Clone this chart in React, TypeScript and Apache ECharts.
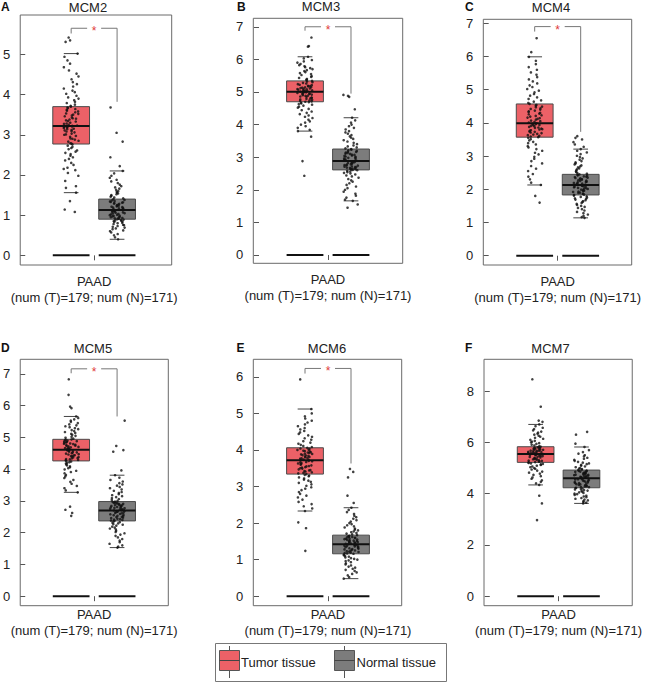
import React, { useEffect, useRef } from "react";
import * as echarts from "echarts";

const genes = ["MCM2", "MCM3", "MCM4", "MCM5", "MCM6", "MCM7"];
const letters = ["A", "B", "C", "D", "E", "F"];
const xTickLabel = "PAAD\n(num (T)=179; num (N)=171)";
const legendLabels = ["Tumor tissue", "Normal tissue"];

const yTicks = [
  [0, 1, 2, 3, 4, 5],
  [0, 1, 2, 3, 4, 5, 6, 7],
  [0, 1, 2, 3, 4, 5, 6, 7],
  [0, 1, 2, 3, 4, 5, 6, 7],
  [0, 1, 2, 3, 4, 5, 6],
  [0, 2, 4, 6, 8],
];
const yRanges = [
  [-0.24, 5.98],
  [-0.255, 7.26],
  [-0.28, 7.12],
  [-0.3, 7.46],
  [-0.26, 6.48],
  [-0.37, 9.24],
];

// [lower whisker, Q1, median, Q3, upper whisker]
const tumorStats = [
  [1.56, 2.77, 3.22, 3.7, 5.02],
  [3.8, 4.7, 5.01, 5.34, 6.08],
  [2.13, 3.57, 3.99, 4.57, 5.99],
  [3.27, 4.26, 4.61, 4.94, 5.66],
  [2.33, 3.34, 3.72, 4.06, 5.12],
  [4.34, 5.22, 5.55, 5.83, 6.7],
];
const normalStats = [
  [0.4, 0.9, 1.13, 1.4, 2.1],
  [1.66, 2.61, 2.88, 3.25, 4.21],
  [1.14, 1.83, 2.13, 2.45, 3.21],
  [1.53, 2.37, 2.7, 2.98, 3.81],
  [0.48, 1.16, 1.42, 1.67, 2.42],
  [3.62, 4.23, 4.6, 4.92, 5.82],
];
// significance bracket: [top, left leg end, right leg end]
const brackets: (number[] | null)[] = [
  [5.65, 5.52, 3.82],
  [7.0, 6.88, 4.95],
  [6.9, 6.75, 3.73],
  [7.16, 7.02, 5.66],
  [6.23, 6.09, 3.63],
  null,
];

const tumorMCM2 = [1.08, 1.14, 1.35,
  1.56, 1.68, 1.72, 1.85, 1.98, 2.05, 2.12, 2.15, 2.18, 2.25, 2.3, 2.36, 2.4, 2.44, 2.48, 2.52, 2.55, 2.58, 2.61, 2.64, 2.67, 2.7, 2.73, 2.76,
  2.78, 2.79, 2.83, 2.85, 2.88, 2.9, 2.91, 2.95, 2.97, 3.0, 3.01, 3.03, 3.06, 3.08, 3.09, 3.11, 3.12, 3.14, 3.15, 3.17, 3.18, 3.19, 3.2, 3.21, 3.22,
  3.23, 3.25, 3.27, 3.28, 3.3, 3.33, 3.34, 3.36, 3.38, 3.4, 3.41, 3.43, 3.46, 3.48, 3.5, 3.52, 3.53, 3.56, 3.58, 3.6, 3.62, 3.64, 3.66, 3.68, 3.7,
  3.72, 3.75, 3.79, 3.82, 3.86, 3.9, 3.93, 3.97, 4.02, 4.06, 4.1, 4.15, 4.2, 4.26, 4.31, 4.38, 4.45, 4.52, 4.6, 4.68, 4.77, 4.85, 4.94, 5.02,
  5.31, 5.35, 5.42];
const normalMCM2 = [0.4, 0.45, 0.5, 0.53, 0.57, 0.6, 0.62, 0.65, 0.67, 0.69, 0.71, 0.73, 0.75, 0.76, 0.78, 0.8, 0.81, 0.83, 0.84, 0.85, 0.86, 0.87, 0.88, 0.89,
  0.9, 0.91, 0.92, 0.93, 0.94, 0.95, 0.96, 0.97, 0.98, 0.99, 1.0, 1.01, 1.02, 1.03, 1.04, 1.05, 1.06, 1.07, 1.08, 1.09, 1.1, 1.11, 1.12, 1.13,
  1.14, 1.15, 1.16, 1.17, 1.18, 1.19, 1.2, 1.21, 1.22, 1.23, 1.24, 1.25, 1.26, 1.28, 1.29, 1.3, 1.31, 1.32, 1.33, 1.34, 1.35, 1.37, 1.38, 1.4,
  1.42, 1.44, 1.46, 1.48, 1.5, 1.52, 1.54, 1.56, 1.58, 1.6, 1.63, 1.66, 1.69, 1.72, 1.76, 1.8, 1.84, 1.88, 1.93, 1.98, 2.04, 2.1,
  2.22, 2.44, 2.83, 3.05, 3.68];

const tumorMCM3 = [2.43, 2.88, 3.63,
  3.8, 3.84, 3.9, 3.95, 4.0, 4.06, 4.1, 4.15, 4.2, 4.24, 4.28, 4.32, 4.36, 4.4, 4.44, 4.48, 4.52, 4.55, 4.58, 4.61, 4.63, 4.65, 4.67, 4.69,
  4.7, 4.71, 4.73, 4.74, 4.76, 4.77, 4.79, 4.8, 4.82, 4.83, 4.85, 4.86, 4.88, 4.89, 4.9, 4.92, 4.93, 4.94, 4.95, 4.96, 4.97, 4.98, 4.99, 5.0, 5.01,
  5.02, 5.03, 5.04, 5.05, 5.06, 5.07, 5.08, 5.09, 5.1, 5.11, 5.12, 5.13, 5.14, 5.15, 5.17, 5.18, 5.19, 5.21, 5.22, 5.24, 5.26, 5.28, 5.3, 5.32, 5.34,
  5.36, 5.38, 5.4, 5.43, 5.46, 5.49, 5.52, 5.55, 5.58, 5.61, 5.64, 5.67, 5.7, 5.73, 5.76, 5.79, 5.82, 5.86, 5.9, 5.94, 5.98, 6.03, 6.08,
  6.39, 6.41, 6.67];
const normalMCM3 = [1.45, 1.55,
  1.66, 1.7, 1.76, 1.82, 1.88, 1.94, 2.0, 2.05, 2.1, 2.15, 2.2, 2.25, 2.29, 2.33, 2.37, 2.41, 2.44, 2.47, 2.5, 2.52, 2.54, 2.56, 2.58, 2.6,
  2.61, 2.62, 2.63, 2.64, 2.65, 2.66, 2.67, 2.68, 2.69, 2.7, 2.71, 2.72, 2.74, 2.75, 2.76, 2.77, 2.78, 2.8, 2.81, 2.82, 2.84, 2.85, 2.86, 2.88,
  2.89, 2.9, 2.92, 2.93, 2.95, 2.96, 2.98, 2.99, 3.01, 3.02, 3.04, 3.05, 3.07, 3.08, 3.1, 3.11, 3.13, 3.14, 3.16, 3.17, 3.19, 3.21, 3.23, 3.25,
  3.27, 3.3, 3.33, 3.36, 3.4, 3.44, 3.48, 3.52, 3.56, 3.6, 3.64, 3.68, 3.72, 3.76, 3.8, 3.85, 3.9, 3.95, 4.0, 4.06, 4.13, 4.21,
  4.47, 4.85, 4.88, 4.91];

const tumorMCM4 = [1.6, 1.8,
  2.13, 2.2, 2.3, 2.38, 2.46, 2.55, 2.62, 2.7, 2.78, 2.85, 2.92, 2.98, 3.05, 3.1, 3.16, 3.21, 3.26, 3.3, 3.35, 3.39, 3.43, 3.47, 3.51, 3.55,
  3.57, 3.59, 3.61, 3.63, 3.65, 3.67, 3.69, 3.71, 3.73, 3.74, 3.76, 3.78, 3.8, 3.81, 3.83, 3.85, 3.86, 3.88, 3.9, 3.91, 3.93, 3.94, 3.96, 3.97, 3.99,
  4.01, 4.03, 4.05, 4.07, 4.1, 4.12, 4.14, 4.16, 4.19, 4.21, 4.23, 4.26, 4.28, 4.3, 4.33, 4.35, 4.37, 4.4, 4.42, 4.44, 4.47, 4.49, 4.52, 4.54, 4.57,
  4.6, 4.64, 4.68, 4.72, 4.77, 4.82, 4.87, 4.92, 4.97, 5.02, 5.08, 5.13, 5.19, 5.25, 5.31, 5.38, 5.45, 5.52, 5.6, 5.68, 5.77, 5.87, 5.99,
  6.13, 6.55];
const normalMCM4 = [1.14, 1.16, 1.2, 1.24, 1.28, 1.32, 1.36, 1.4, 1.44, 1.47, 1.5, 1.53, 1.56, 1.59, 1.62, 1.64, 1.67, 1.69, 1.71, 1.73, 1.75, 1.77, 1.79, 1.81,
  1.83, 1.84, 1.86, 1.87, 1.89, 1.9, 1.92, 1.93, 1.95, 1.96, 1.97, 1.99, 2.0, 2.01, 2.03, 2.04, 2.05, 2.06, 2.08, 2.09, 2.1, 2.11, 2.12, 2.13,
  2.14, 2.15, 2.17, 2.18, 2.19, 2.21, 2.22, 2.23, 2.25, 2.26, 2.27, 2.29, 2.3, 2.31, 2.33, 2.34, 2.35, 2.37, 2.38, 2.39, 2.41, 2.42, 2.44, 2.45,
  2.47, 2.49, 2.52, 2.54, 2.57, 2.6, 2.63, 2.66, 2.69, 2.72, 2.75, 2.78, 2.81, 2.85, 2.89, 2.93, 2.97, 3.01, 3.06, 3.11, 3.16, 3.21,
  3.28, 3.35, 3.42, 3.5, 3.55, 3.6];

const tumorMCM5 = [2.53, 2.62, 2.72, 2.82,
  3.27, 3.33, 3.4, 3.47, 3.54, 3.6, 3.66, 3.72, 3.77, 3.82, 3.87, 3.91, 3.95, 3.99, 4.03, 4.06, 4.09, 4.12, 4.15, 4.18, 4.2, 4.22, 4.24,
  4.26, 4.28, 4.29, 4.31, 4.32, 4.34, 4.35, 4.37, 4.38, 4.4, 4.41, 4.43, 4.44, 4.46, 4.47, 4.49, 4.5, 4.52, 4.53, 4.55, 4.56, 4.58, 4.59, 4.61,
  4.62, 4.63, 4.65, 4.66, 4.68, 4.69, 4.7, 4.72, 4.73, 4.74, 4.76, 4.77, 4.79, 4.8, 4.81, 4.83, 4.84, 4.86, 4.87, 4.88, 4.9, 4.91, 4.93, 4.94,
  4.96, 4.99, 5.02, 5.05, 5.08, 5.11, 5.14, 5.17, 5.2, 5.23, 5.26, 5.29, 5.32, 5.35, 5.38, 5.41, 5.45, 5.49, 5.53, 5.57, 5.61, 5.66,
  5.92, 5.97, 6.34, 6.83];
const normalMCM5 = [1.53, 1.56, 1.6, 1.65, 1.7, 1.75, 1.8, 1.85, 1.9, 1.94, 1.98, 2.02, 2.06, 2.1, 2.13, 2.16, 2.19, 2.22, 2.25, 2.27, 2.29, 2.31, 2.33, 2.35,
  2.37, 2.38, 2.4, 2.41, 2.43, 2.44, 2.46, 2.47, 2.49, 2.5, 2.52, 2.53, 2.55, 2.56, 2.58, 2.59, 2.61, 2.62, 2.63, 2.65, 2.66, 2.67, 2.68, 2.7,
  2.71, 2.72, 2.73, 2.74, 2.75, 2.77, 2.78, 2.79, 2.8, 2.81, 2.82, 2.84, 2.85, 2.86, 2.87, 2.88, 2.9, 2.91, 2.92, 2.93, 2.94, 2.95, 2.97, 2.98,
  3.0, 3.03, 3.06, 3.09, 3.12, 3.15, 3.18, 3.21, 3.25, 3.28, 3.32, 3.36, 3.4, 3.44, 3.48, 3.52, 3.56, 3.61, 3.66, 3.73, 3.81,
  3.96, 4.55, 4.6, 4.73, 5.53];

const tumorMCM6 = [1.24, 1.86, 2.02,
  2.33, 2.4, 2.46, 2.52, 2.58, 2.64, 2.7, 2.75, 2.8, 2.85, 2.9, 2.94, 2.98, 3.02, 3.06, 3.1, 3.13, 3.16, 3.19, 3.22, 3.25, 3.28, 3.3, 3.32,
  3.34, 3.36, 3.37, 3.39, 3.41, 3.42, 3.44, 3.45, 3.47, 3.49, 3.5, 3.52, 3.53, 3.55, 3.56, 3.58, 3.6, 3.61, 3.63, 3.64, 3.66, 3.67, 3.69, 3.7, 3.72,
  3.73, 3.74, 3.76, 3.77, 3.78, 3.8, 3.81, 3.82, 3.84, 3.85, 3.86, 3.88, 3.89, 3.9, 3.92, 3.93, 3.94, 3.96, 3.97, 3.98, 4.0, 4.01, 4.03, 4.04, 4.06,
  4.08, 4.11, 4.14, 4.17, 4.2, 4.24, 4.28, 4.32, 4.36, 4.4, 4.44, 4.48, 4.52, 4.56, 4.6, 4.65, 4.7, 4.75, 4.8, 4.86, 4.92, 5.0, 5.12,
  5.93];
const normalMCM6 = [0.48, 0.52, 0.57, 0.61, 0.65, 0.69, 0.72, 0.75, 0.78, 0.81, 0.84, 0.87, 0.9, 0.93, 0.96, 0.98, 1.0, 1.02, 1.04, 1.06, 1.08, 1.1, 1.12, 1.14,
  1.16, 1.17, 1.18, 1.19, 1.21, 1.22, 1.23, 1.24, 1.25, 1.27, 1.28, 1.29, 1.3, 1.31, 1.33, 1.34, 1.35, 1.36, 1.37, 1.38, 1.39, 1.4, 1.41, 1.42,
  1.43, 1.44, 1.45, 1.46, 1.47, 1.48, 1.49, 1.5, 1.51, 1.52, 1.53, 1.54, 1.55, 1.56, 1.57, 1.58, 1.59, 1.6, 1.61, 1.62, 1.63, 1.64, 1.65, 1.67,
  1.69, 1.71, 1.73, 1.75, 1.77, 1.8, 1.82, 1.85, 1.88, 1.91, 1.94, 1.97, 2.0, 2.04, 2.08, 2.12, 2.16, 2.2, 2.25, 2.3, 2.36, 2.42,
  2.55, 2.75, 3.25, 3.4, 3.48];

const tumorMCM7 = [2.97, 3.62, 3.92,
  4.34, 4.4, 4.46, 4.52, 4.58, 4.63, 4.68, 4.73, 4.78, 4.82, 4.86, 4.9, 4.94, 4.97, 5.0, 5.03, 5.06, 5.09, 5.12, 5.14, 5.16, 5.18, 5.2,
  5.22, 5.23, 5.25, 5.26, 5.28, 5.29, 5.31, 5.32, 5.34, 5.35, 5.37, 5.38, 5.4, 5.41, 5.43, 5.44, 5.46, 5.47, 5.48, 5.5, 5.51, 5.52, 5.54, 5.55,
  5.56, 5.57, 5.58, 5.59, 5.6, 5.62, 5.63, 5.64, 5.65, 5.66, 5.67, 5.68, 5.7, 5.71, 5.72, 5.73, 5.74, 5.75, 5.77, 5.78, 5.79, 5.8, 5.81, 5.83,
  5.85, 5.88, 5.91, 5.94, 5.97, 6.0, 6.03, 6.06, 6.1, 6.14, 6.18, 6.22, 6.26, 6.3, 6.34, 6.38, 6.42, 6.47, 6.52, 6.57, 6.63, 6.7,
  6.8, 6.85, 7.39, 8.46];
const normalMCM7 = [3.62, 3.65, 3.68, 3.71, 3.74, 3.77, 3.8, 3.83, 3.86, 3.89, 3.92, 3.95, 3.98, 4.0, 4.03, 4.05, 4.08, 4.1, 4.12, 4.14, 4.16, 4.18, 4.2, 4.22,
  4.23, 4.25, 4.26, 4.28, 4.29, 4.31, 4.33, 4.34, 4.36, 4.37, 4.39, 4.41, 4.42, 4.44, 4.45, 4.47, 4.49, 4.5, 4.52, 4.53, 4.55, 4.56, 4.58, 4.6,
  4.61, 4.62, 4.64, 4.65, 4.66, 4.68, 4.69, 4.7, 4.72, 4.73, 4.74, 4.76, 4.77, 4.78, 4.8, 4.81, 4.82, 4.84, 4.85, 4.86, 4.88, 4.89, 4.9, 4.92,
  4.94, 4.96, 4.98, 5.0, 5.03, 5.06, 5.09, 5.12, 5.15, 5.18, 5.21, 5.24, 5.28, 5.32, 5.36, 5.4, 5.45, 5.5, 5.56, 5.62, 5.7, 5.82,
  5.95, 6.3, 6.41];

const tumorPoints = [tumorMCM2, tumorMCM3, tumorMCM4, tumorMCM5, tumorMCM6, tumorMCM7];
const normalPoints = [normalMCM2, normalMCM3, normalMCM4, normalMCM5, normalMCM6, normalMCM7];

// layout (pixels) of each panel's plot frame and its x extent
const frames = [
  { left: 20, top: 15, width: 151.7, height: 250, xMin: -0.109, xMax: 3.189, titleX: 88, titleY: 7, letterX: 1, letterY: 7, labelMargin: 8 },
  { left: 253.3, top: 18.3, width: 149.4, height: 245, xMin: -0.124, xMax: 3.124, titleX: 321, titleY: 6.5, letterX: 237, letterY: 6.5, labelMargin: 8 },
  { left: 483.3, top: 19.3, width: 148.4, height: 245.7, xMin: -0.117, xMax: 3.109, titleX: 551, titleY: 7, letterX: 465, letterY: 7, labelMargin: 8 },
  { left: 20, top: 359.3, width: 148.3, height: 246.4, xMin: -0.109, xMax: 3.115, titleX: 93, titleY: 348.5, letterX: 1, letterY: 348, labelMargin: 1 },
  { left: 253.3, top: 359.3, width: 148.4, height: 246.4, xMin: -0.124, xMax: 3.102, titleX: 327, titleY: 348.5, letterX: 236.5, letterY: 348, labelMargin: 1 },
  { left: 484, top: 359.3, width: 148.7, height: 246.4, xMin: -0.126, xMax: 3.107, titleX: 550.5, titleY: 348.5, letterX: 465, letterY: 348, labelMargin: 1 },
];

const TUMOR = "#EC6167";
const NORMAL = "#7C7C7C";
const FONT = "'Liberation Sans', Arial, sans-serif";
const HALF_BOX = 0.4;
const HALF_WHISK = 0.16;

// deterministic horizontal scatter (jitter) for the dots; positions only
function jitter(vals: number[], center: number, seed: number) {
  return vals.map((v, i) => {
    const h = Math.sin((i + 1) * 78.233 + seed * 12.9898) * 43758.5453;
    const f = h - Math.floor(h);
    return [center + (f - 0.5) * 0.33, v];
  });
}

export default function App() {
  const ref = useRef<HTMLDivElement>(null);
  useEffect(() => {
    document.body.style.margin = "0";
    if (!ref.current) return;
    const chart = echarts.init(ref.current, undefined, { renderer: "svg" });

    const grid: any[] = [];
    const xAxis: any[] = [];
    const yAxis: any[] = [];
    const series: any[] = [];
    const graphic: any[] = [];

    frames.forEach((f, p) => {
      grid.push({
        left: f.left, top: f.top, width: f.width, height: f.height,
        show: true, borderColor: "#6a6a6a", borderWidth: 1, backgroundColor: "transparent",
      });
      xAxis.push({
        type: "value", gridIndex: p, min: f.xMin, max: f.xMax,
        axisLine: { show: false }, splitLine: { show: false },
        axisTick: { show: true, customValues: [1.5], length: 5, lineStyle: { color: "#555" } },
        axisLabel: {
          customValues: [1.5], formatter: () => xTickLabel, fontSize: 13, lineHeight: 16,
          color: "#222", fontFamily: FONT, margin: f.labelMargin,
        },
      });
      yAxis.push({
        type: "value", gridIndex: p, min: yRanges[p][0], max: yRanges[p][1],
        axisLine: { show: false }, splitLine: { show: false },
        axisTick: { show: true, customValues: yTicks[p], length: 5, lineStyle: { color: "#555" } },
        axisLabel: { customValues: yTicks[p], fontSize: 13, color: "#222", fontFamily: FONT, margin: 10 },
      });

      series.push({
        type: "custom", xAxisIndex: p, yAxisIndex: p, silent: true, z: 2,
        data: [[1, ...tumorStats[p]], [2, ...normalStats[p]]],
        renderItem: (params: any, api: any) => {
          const x = api.value(0);
          const lo = api.value(1), q1 = api.value(2), med = api.value(3), q3 = api.value(4), hi = api.value(5);
          const fill = params.dataIndex === 0 ? TUMOR : NORMAL;
          const tl = api.coord([x - HALF_BOX, q3]);
          const br = api.coord([x + HALF_BOX, q1]);
          const m1 = api.coord([x - HALF_BOX, med]);
          const m2 = api.coord([x + HALF_BOX, med]);
          const h1 = api.coord([x - HALF_WHISK, hi]);
          const h2 = api.coord([x + HALF_WHISK, hi]);
          const l1 = api.coord([x - HALF_WHISK, lo]);
          const l2 = api.coord([x + HALF_WHISK, lo]);
          const z1 = api.coord([x - HALF_BOX, 0]);
          const z2 = api.coord([x + HALF_BOX, 0]);
          return {
            type: "group",
            children: [
              { type: "rect", shape: { x: tl[0], y: tl[1], width: br[0] - tl[0], height: br[1] - tl[1] }, style: { fill, stroke: "#4a4a4a", lineWidth: 1 } },
              { type: "line", shape: { x1: m1[0], y1: m1[1], x2: m2[0], y2: m2[1] }, style: { stroke: "#111", lineWidth: 2 } },
              { type: "line", shape: { x1: h1[0], y1: h1[1], x2: h2[0], y2: h2[1] }, style: { stroke: "#444", lineWidth: 1 } },
              { type: "line", shape: { x1: l1[0], y1: l1[1], x2: l2[0], y2: l2[1] }, style: { stroke: "#444", lineWidth: 1 } },
              { type: "line", shape: { x1: z1[0], y1: z1[1], x2: z2[0], y2: z2[1] }, style: { stroke: "#111", lineWidth: 2 } },
            ],
          };
        },
      });

      series.push({
        type: "scatter", xAxisIndex: p, yAxisIndex: p, silent: true, z: 3,
        symbolSize: 2.6, itemStyle: { color: "#111" },
        data: jitter(tumorPoints[p], 1, 1 + p * 2),
      });
      series.push({
        type: "scatter", xAxisIndex: p, yAxisIndex: p, silent: true, z: 3,
        symbolSize: 2.6, itemStyle: { color: "#111" },
        data: jitter(normalPoints[p], 2, 2 + p * 2),
      });

      const b = brackets[p];
      if (b) {
        series.push({
          type: "custom", xAxisIndex: p, yAxisIndex: p, silent: true, z: 4,
          data: [[1, 2, b[0], b[1], b[2]]],
          renderItem: (_params: any, api: any) => {
            const xl = api.value(0), xr = api.value(1), top = api.value(2), lb = api.value(3), rb = api.value(4);
            const pLB = api.coord([xl, lb]);
            const pLT = api.coord([xl, top]);
            const pRT = api.coord([xr, top]);
            const pRB = api.coord([xr, rb]);
            const mid = (pLT[0] + pRT[0]) / 2;
            return {
              type: "group",
              children: [
                { type: "polyline", shape: { points: [pLB, pLT, [mid - 7, pLT[1]]] }, style: { stroke: "#777", lineWidth: 1, fill: null } },
                { type: "polyline", shape: { points: [[mid + 7, pRT[1]], pRT, pRB] }, style: { stroke: "#777", lineWidth: 1, fill: null } },
                { type: "text", x: mid, y: pLT[1] + 3, style: { text: "*", fill: "#E03A3A", font: `12px ${FONT}`, textAlign: "center", textVerticalAlign: "middle" } },
              ],
            };
          },
        });
      }

      graphic.push({
        type: "text", x: f.titleX, y: f.titleY,
        style: { text: genes[p], fill: "#222", font: `13px ${FONT}`, textAlign: "center", textVerticalAlign: "middle" },
      });
      graphic.push({
        type: "text", x: f.letterX, y: f.letterY,
        style: { text: letters[p], fill: "#111", font: `bold 12px ${FONT}`, textAlign: "left", textVerticalAlign: "middle" },
      });
    });

    // legend
    graphic.push({ type: "rect", shape: { x: 215.5, y: 643.5, width: 231, height: 38 }, style: { fill: "#fff", stroke: "#777", lineWidth: 1 } });
    const icons = [
      { x: 219.5, color: TUMOR, textX: 241, label: legendLabels[0] },
      { x: 334.5, color: NORMAL, textX: 356.5, label: legendLabels[1] },
    ];
    icons.forEach((ic) => {
      graphic.push({ type: "line", shape: { x1: ic.x + 10, y1: 646, x2: ic.x + 10, y2: 678 }, style: { stroke: "#555", lineWidth: 1 } });
      graphic.push({ type: "rect", shape: { x: ic.x, y: 650.5, width: 20, height: 20 }, style: { fill: ic.color, stroke: "#555", lineWidth: 1 } });
      graphic.push({ type: "line", shape: { x1: ic.x, y1: 660.5, x2: ic.x + 20, y2: 660.5 }, style: { stroke: "#444", lineWidth: 1 } });
      graphic.push({ type: "text", x: ic.textX, y: 662, style: { text: ic.label, fill: "#222", font: `13px ${FONT}`, textAlign: "left", textVerticalAlign: "middle" } });
    });

    chart.setOption({
      animation: false,
      backgroundColor: "#ffffff",
      grid, xAxis, yAxis, series, graphic,
    });
    return () => chart.dispose();
  }, []);

  return <div ref={ref} style={{ width: 645, height: 683 }} />;
}
